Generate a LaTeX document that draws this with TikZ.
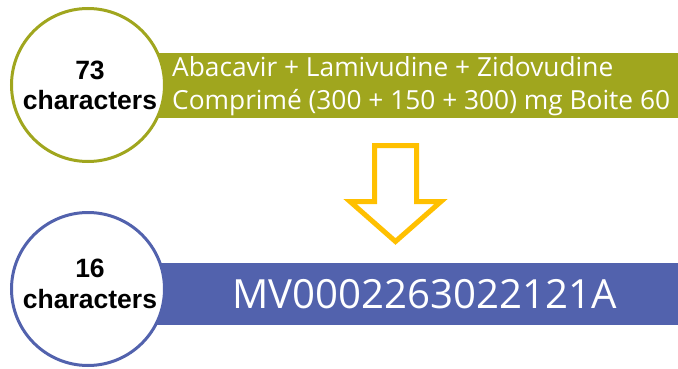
\documentclass[tikz,border=0pt]{standalone}
\usepackage{fontspec}
\setmainfont{Open Sans}
\newfontfamily\countfont{Liberation Sans}
\definecolor{olivebar}{HTML}{A0A61E}
\definecolor{bluebar}{HTML}{5262AD}
\definecolor{arrowgold}{HTML}{FFC000}
\begin{document}
\begin{tikzpicture}[x=1pt,y=-1pt,
  badge/.style={circle,fill=white,line width=3pt,minimum size=153pt,inner sep=0pt},
  count/.style={font=\countfont\bfseries\fontsize{26.5}{26.5}\selectfont,anchor=base},
  bartext/.style={text=white,anchor=base west,inner sep=0pt}]
\useasboundingbox (0,0) rectangle (678,369);
% coloured bars behind the circles
\fill[olivebar] (120,53) rectangle (678,118);
\fill[bluebar] (120,263) rectangle (678,325);
% circular badges
\node[badge,draw=olivebar] (topc) at (88,85) {};
\node[badge,draw=bluebar] (botc) at (88,289) {};
% badge texts
\node[count] (n73) at (90,80) {73};
\node[count] (c73) at (90,110) {characters};
\node[count] (n16) at (90,277) {16};
\node[count] (c16) at (90,308) {characters};
% bar texts
\node[bartext,font=\fontsize{26.3}{26.3}\selectfont] (l1) at (172,77) {Abacavir + Lamivudine + Zidovudine};
\node[bartext,font=\fontsize{26.3}{26.3}\selectfont] (l2) at (172,110) {Comprimé (300 + 150 + 300) mg Boite 60};
\node[bartext,font=\fontsize{40.2}{40.2}\selectfont] (code) at (232,308) {MV0002263022121A};
% hollow down arrow
\draw[arrowgold,line width=5pt,line join=miter,fill=white]
  (374.5,145.5) -- (416.5,145.5) -- (416.5,201.5) -- (441,201.5)
  -- (395.5,241.5) -- (350,201.5) -- (374.5,201.5) -- cycle;
\end{tikzpicture}
\end{document}
